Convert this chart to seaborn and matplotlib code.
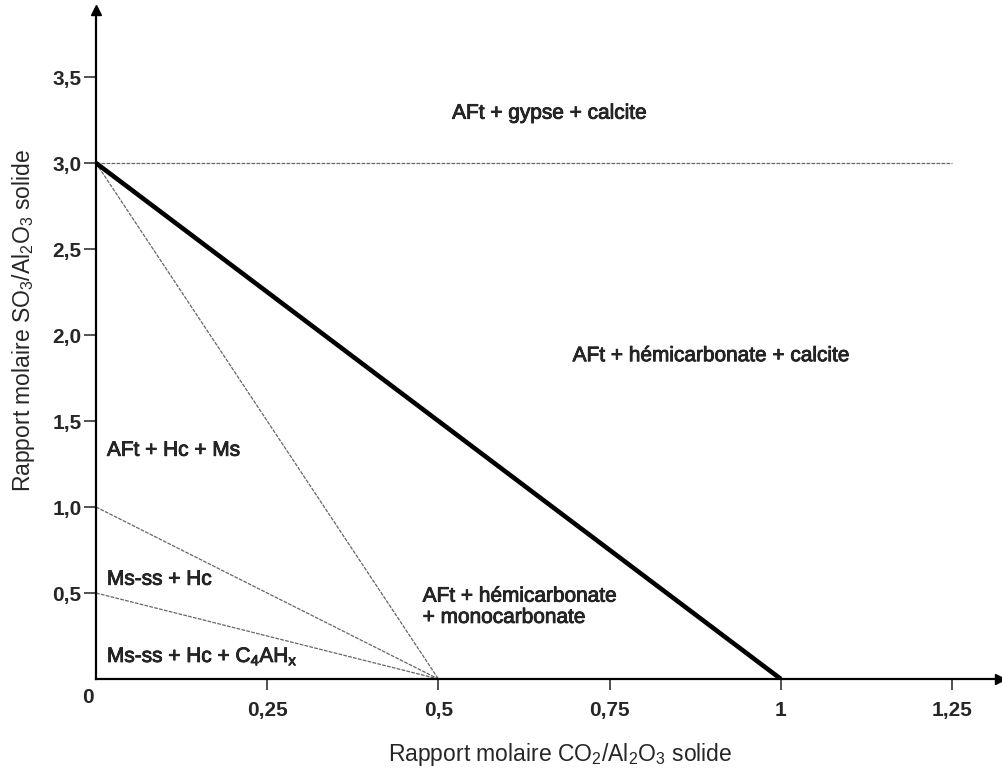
import matplotlib
matplotlib.use("Agg")
import matplotlib.pyplot as plt
import matplotlib.patheffects as pe
import seaborn as sns

# phase diagram boundaries (CO2/Al2O3 vs SO3/Al2O3)
x_main = [0, 1]
y_main = [3, 0]
x_ms = [0, 0.5]
y_ms = [3, 0]
x_hc = [0, 0.5]
y_hc = [1, 0]
x_c4ah = [0, 0.5]
y_c4ah = [0.5, 0]
x_gypse = [0, 1.25]
y_gypse = [3, 3]

x_ticks = [0.25, 0.5, 0.75, 1, 1.25]
x_labels = ["0,25", "0,5", "0,75", "1", "1,25"]
y_ticks = [0.5, 1.0, 1.5, 2.0, 2.5, 3.0, 3.5]
y_labels = ["0,5", "1,0", "1,5", "2,0", "2,5", "3,0", "3,5"]

sns.set_style("white")
plt.rcParams["font.family"] = ["Liberation Sans", "DejaVu Sans"]
plt.rcParams["mathtext.fontset"] = "custom"
plt.rcParams["mathtext.rm"] = "Liberation Sans"

fig = plt.figure(figsize=(10.02, 7.69), dpi=100)
ax = fig.add_axes([96 / 1002, 90 / 769, 904 / 1002, 669 / 769])

# -----------------------
# boundary lines
# -----------------------
thin = dict(color="#666666", lw=0.9, linestyle=(0, (3, 1)))
sns.lineplot(x=x_gypse, y=y_gypse, ax=ax, **thin)
sns.lineplot(x=x_ms, y=y_ms, ax=ax, **thin)
sns.lineplot(x=x_hc, y=y_hc, ax=ax, **thin)
sns.lineplot(x=x_c4ah, y=y_c4ah, ax=ax, **thin)
sns.lineplot(x=x_main, y=y_main, ax=ax, color="black", lw=3.3,
             solid_capstyle="butt")

ax.set_xlim(0, 1.32)
ax.set_ylim(0, 3.89)

# -----------------------
# axes with arrows
# -----------------------
for s in ["top", "right"]:
    ax.spines[s].set_visible(False)
for s in ["left", "bottom"]:
    ax.spines[s].set_linewidth(1.6)
    ax.spines[s].set_color("black")
ax.plot(1, 0, ">", color="black", ms=7, transform=ax.transAxes, clip_on=False)
ax.plot(0, 1, "^", color="black", ms=7, transform=ax.transAxes, clip_on=False)

ax.set_xticks(x_ticks)
ax.set_xticklabels(x_labels, fontsize=15, fontweight="bold")
ax.set_yticks(y_ticks)
ax.set_yticklabels(y_labels, fontsize=15, fontweight="bold")
ax.tick_params(axis="x", direction="out", length=8, width=1.2, pad=8,
               color="#333333", bottom=True)
ax.tick_params(axis="y", direction="out", length=9, width=1.2, pad=1.5,
               color="#333333", left=True)
ax.text(-0.012, -0.105, "0", fontsize=15, fontweight="bold",
        ha="center", va="center", clip_on=False)

# -----------------------
# region labels
# -----------------------
fs = 15
heavy = [pe.withStroke(linewidth=0.6, foreground="#111111")]
ax.text(0.52, 3.29, "AFt + gypse + calcite", fontsize=fs, va="center",
        path_effects=heavy)
ax.text(0.696, 1.88, "AFt + hémicarbonate + calcite", fontsize=fs,
        va="center", path_effects=heavy)
ax.text(0.016, 1.33, "AFt + Hc + Ms", fontsize=fs, va="center",
        path_effects=heavy)
ax.text(0.016, 0.58, "Ms-ss + Hc", fontsize=fs, va="center",
        path_effects=heavy)
ax.text(0.016, 0.13, r"Ms-ss + Hc + C$\mathregular{_4}$AH$\mathregular{_x}$",
        fontsize=fs, va="center", path_effects=heavy)
ax.text(0.477, 0.42, "AFt + hémicarbonate\n+ monocarbonate", fontsize=fs,
        va="center", linespacing=1.15, path_effects=heavy)

# axis titles
fig.text(560 / 1002, 1 - 754 / 769,
         r"Rapport molaire CO$\mathregular{_2}$/Al$\mathregular{_2}$O$\mathregular{_3}$ solide",
         fontsize=16.5, ha="center", va="center")
fig.text(24 / 1002, 1 - 320 / 769,
         r"Rapport molaire SO$\mathregular{_3}$/Al$\mathregular{_2}$O$\mathregular{_3}$ solide",
         fontsize=16.5, ha="center", va="center", rotation=90)

fig.savefig("out.png", dpi=100)
